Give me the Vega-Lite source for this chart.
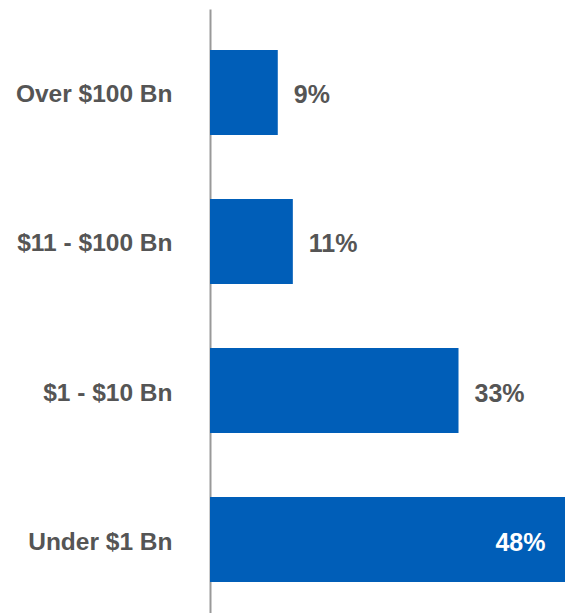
{
  "$schema": "https://vega.github.io/schema/vega-lite/v6.json",
  "width": 355,
  "height": 614,
  "autosize": {"type": "none"},
  "padding": {"left": 210, "top": 9, "right": 0, "bottom": 0},
  "background": "white",
  "config": {"view": {"stroke": null}},
  "data": {
    "values": [
      {"category": "Over $100 Bn", "value": 9, "label": "9%"},
      {"category": "$11 - $100 Bn", "value": 11, "label": "11%"},
      {"category": "$1 - $10 Bn", "value": 33, "label": "33%"},
      {"category": "Under $1 Bn", "value": 48, "label": "48%"}
    ]
  },
  "encoding": {
    "y": {
      "field": "category",
      "type": "nominal",
      "sort": null,
      "scale": {"paddingInner": 0.43, "paddingOuter": 0.275},
      "axis": {
        "title": null,
        "ticks": false,
        "domainColor": "#999999",
        "domainWidth": 2,
        "labelFont": "Liberation Sans",
        "labelFontSize": 24.5,
        "labelFontWeight": "bold",
        "labelColor": "#555555",
        "labelPadding": 38,
        "labelOffset": 3,
        "labelLimit": 300
      }
    },
    "x": {
      "field": "value",
      "type": "quantitative",
      "scale": {"domain": [0, 47.14], "nice": false},
      "axis": null
    }
  },
  "layer": [
    {"mark": {"type": "bar", "color": "#005EB8", "clip": true}},
    {
      "transform": [{"filter": "datum.value < 40"}],
      "mark": {"type": "text", "align": "left", "baseline": "middle", "dx": 16, "dy": 3, "font": "Liberation Sans", "fontSize": 25, "fontWeight": "bold", "color": "#555555"},
      "encoding": {"text": {"field": "label"}}
    },
    {
      "transform": [{"filter": "datum.value >= 40"}],
      "mark": {"type": "text", "align": "right", "baseline": "middle", "dx": -26, "dy": 3, "font": "Liberation Sans", "fontSize": 25, "fontWeight": "bold", "color": "white"},
      "encoding": {"text": {"field": "label"}}
    }
  ]
}
